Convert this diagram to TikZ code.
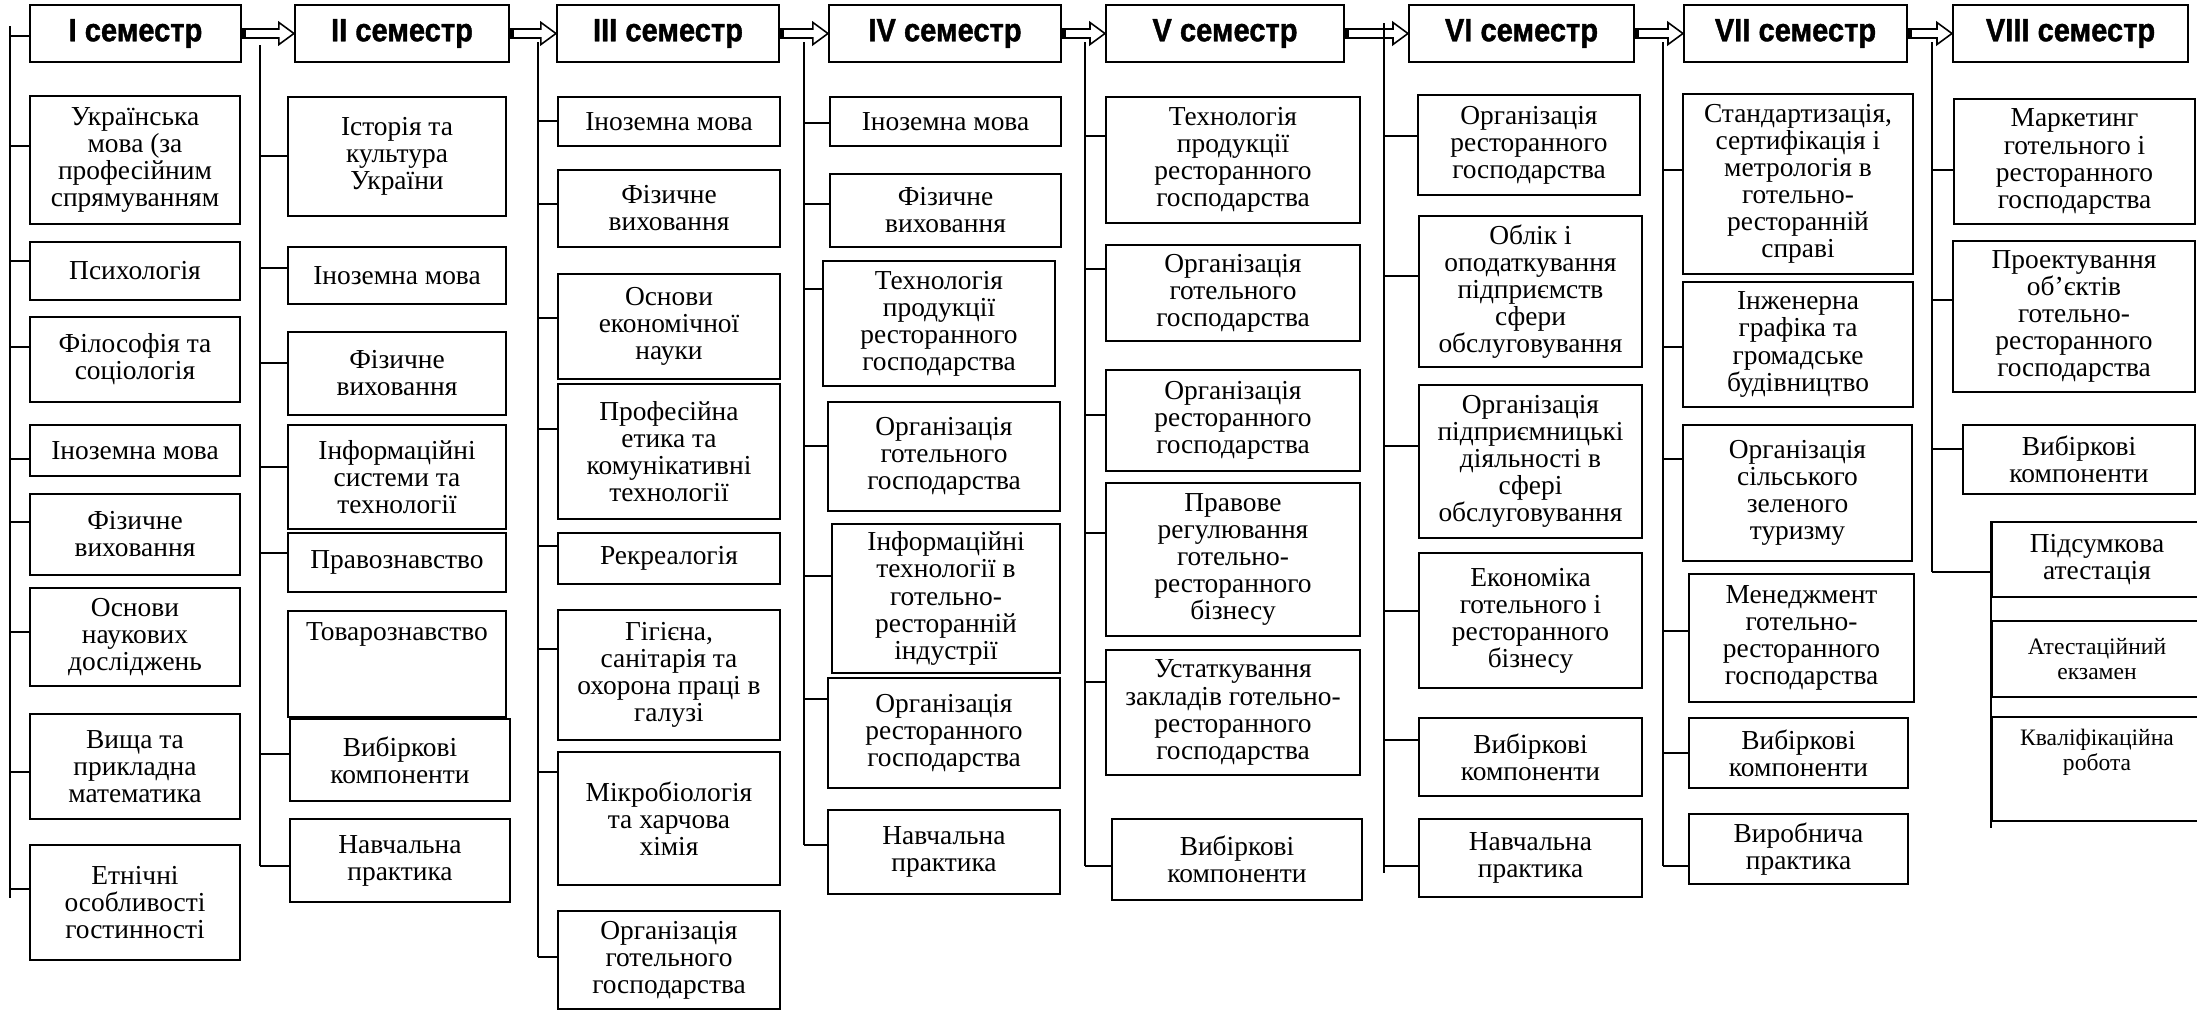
\documentclass[tikz,border=0pt]{standalone}
\usepackage{fontspec}
\setmainfont{Liberation Serif}
\newfontfamily\hdfont{Liberation Sans}[FakeStretch=0.9,FakeBold=1.2]
\usetikzlibrary{calc}
\newcommand\mybox[7][]{\node[box,minimum width={(#5-#3)*0.01cm},minimum height={(#6-#4)*0.01cm},#1] (#2) at ({(#3+#5)/2},{(#4+#6)/2}) {#7};}
\newcommand\tk[3]{\draw[tick] (#1 |- 0,#3) -- (#2.west |- 0,#3);}
\newcommand\harrow[2]{\draw[arr] ($(#1.east)+(0,-4.5)$) -- ($(#2.west)+(-15,-4.5)$) -- ($(#2.west)+(-15,-11)$) -- (#2.west) -- ($(#2.west)+(-15,11)$) -- ($(#2.west)+(-15,4.5)$) -- ($(#1.east)+(0,4.5)$) -- cycle;
 \fill ($(#1.east)+(0,-4.5)$) rectangle ($(#1.east)+(4,4.5)$);}
\tikzset{
 box/.style={draw, line width=0.6pt, inner sep=0pt, align=center, font=\fontsize{7.8}{7.7}\selectfont},
 hdr/.style={font=\hdfont\bfseries\fontsize{9.2}{10}\selectfont},
 small/.style={font=\fontsize{6.7}{7.2}\selectfont},
 tick/.style={line width=0.45pt},
 bus/.style={line width=0.6pt},
 arr/.style={line width=0.45pt, line join=miter},
}
\begin{document}
\begin{tikzpicture}[x=0.01cm,y=-0.01cm]
\fill[white] (0,0) rectangle (2197,1012);
\useasboundingbox (0,0) rectangle (2197,1012);
% headers
\mybox[hdr]{h1}{30}{5}{241}{62}{I семестр}
\mybox[hdr]{h2}{295}{5}{509}{62}{II семестр}
\mybox[hdr]{h3}{557}{5}{779}{62}{III семестр}
\mybox[hdr]{h4}{829}{5}{1061}{62}{IV семестр}
\mybox[hdr]{h5}{1106}{5}{1344}{62}{V семестр}
\mybox[hdr]{h6}{1409}{5}{1634}{62}{VI семестр}
\mybox[hdr]{h7}{1684}{5}{1907}{62}{VII семестр}
\mybox[hdr]{h8}{1953}{5}{2188}{62}{VIII семестр}
\harrow{h1}{h2}\harrow{h2}{h3}\harrow{h3}{h4}\harrow{h4}{h5}
\harrow{h5}{h6}\harrow{h6}{h7}\harrow{h7}{h8}
% column 1
\coordinate (b1t) at (10,26); \coordinate (b1b) at (10,898);
\draw[bus] (b1t) -- (b1b);
\tk{b1t}{h1}{36}
\mybox{c1b1}{30}{96}{240}{224}{Українська\\мова (за\\професійним\\спрямуванням}
\mybox{c1b2}{30}{242}{240}{300}{Психологія}
\mybox{c1b3}{30}{317}{240}{402}{Філософія та\\соціологія}
\mybox{c1b4}{30}{425}{240}{476}{Іноземна мова}
\mybox{c1b5}{30}{494}{240}{575}{Фізичне\\виховання}
\mybox{c1b6}{30}{588}{240}{686}{Основи\\наукових\\досліджень}
\mybox{c1b7}{30}{714}{240}{819}{Вища та\\прикладна\\математика}
\mybox{c1b8}{30}{845}{240}{960}{Етнічні\\особливості\\гостинності}
\tk{b1t}{c1b1}{146}\tk{b1t}{c1b2}{261}\tk{b1t}{c1b3}{347}\tk{b1t}{c1b4}{459}
\tk{b1t}{c1b5}{522}\tk{b1t}{c1b6}{632}\tk{b1t}{c1b7}{772}\tk{b1t}{c1b8}{889}
% column 2
\coordinate (b2t) at (260,45); \coordinate (b2b) at (260,866);
\draw[bus] (b2t) -- (b2b);
\mybox{c2b1}{288}{97}{506}{216}{Історія та\\культура\\України}
\mybox{c2b2}{288}{247}{506}{304}{Іноземна мова}
\mybox{c2b3}{288}{332}{506}{415}{Фізичне\\виховання}
\mybox{c2b4}{288}{425}{506}{529}{Інформаційні\\системи та\\технології}
\mybox{c2b5}{288}{533}{506}{592}{Правознавство}
\mybox[label={[anchor=north,inner sep=0pt,yshift=-3.5pt,font=\fontsize{7.8}{7.7}\selectfont]north:Товарознавство}]{c2b6}{288}{611}{506}{717}{}
\mybox{c2b7}{290}{719}{510}{801}{Вибіркові\\компоненти}
\mybox{c2b8}{290}{819}{510}{902}{Навчальна\\практика}
\tk{b2t}{c2b1}{156}\tk{b2t}{c2b2}{268}\tk{b2t}{c2b3}{363}\tk{b2t}{c2b4}{467}
\tk{b2t}{c2b5}{553}\tk{b2t}{c2b7}{754}\tk{b2t}{c2b8}{866}
% column 3
\coordinate (b3t) at (538,42); \coordinate (b3b) at (538,957);
\draw[bus] (b3t) -- (b3b);
\mybox{c3b1}{558}{97}{780}{146}{Іноземна мова}
\mybox{c3b2}{558}{170}{780}{247}{Фізичне\\виховання}
\mybox{c3b3}{558}{274}{780}{379}{Основи\\економічної\\науки}
\mybox{c3b4}{558}{384}{780}{519}{Професійна\\етика та\\комунікативні\\технології}
\mybox{c3b5}{558}{533}{780}{584}{Рекреалогія}
\mybox{c3b6}{558}{610}{780}{740}{Гігієна,\\санітарія та\\охорона праці в\\галузі}
\mybox{c3b7}{558}{752}{780}{885}{Мікробіологія\\та харчова\\хімія}
\mybox{c3b8}{558}{911}{780}{1009}{Організація\\готельного\\господарства}
\tk{b3t}{c3b1}{121}\tk{b3t}{c3b2}{204}\tk{b3t}{c3b3}{318}\tk{b3t}{c3b4}{429}
\tk{b3t}{c3b5}{546}\tk{b3t}{c3b6}{649}\tk{b3t}{c3b7}{772}\tk{b3t}{c3b8}{957}
% column 4
\coordinate (b4t) at (804,42); \coordinate (b4b) at (804,845);
\draw[bus] (b4t) -- (b4b);
\mybox{c4b1}{830}{97}{1061}{146}{Іноземна мова}
\mybox{c4b2}{830}{174}{1061}{247}{Фізичне\\виховання}
\mybox{c4b3}{823}{261}{1055}{386}{Технологія\\продукції\\ресторанного\\господарства}
\mybox{c4b4}{828}{402}{1060}{511}{Організація\\готельного\\господарства}
\mybox{c4b5}{832}{524}{1060}{673}{Інформаційні\\технології в\\готельно-\\ресторанній\\індустрії}
\mybox{c4b6}{828}{678}{1060}{788}{Організація\\ресторанного\\господарства}
\mybox{c4b7}{828}{810}{1060}{894}{Навчальна\\практика}
\tk{b4t}{c4b1}{123}\tk{b4t}{c4b2}{204}\tk{b4t}{c4b3}{289}\tk{b4t}{c4b4}{446}
\tk{b4t}{c4b5}{576}\tk{b4t}{c4b6}{699}\tk{b4t}{c4b7}{845}
% column 5
\coordinate (b5t) at (1085,42); \coordinate (b5b) at (1085,866);
\draw[bus] (b5t) -- (b5b);
\mybox{c5b1}{1106}{97}{1360}{223}{Технологія\\продукції\\ресторанного\\господарства}
\mybox{c5b2}{1106}{245}{1360}{341}{Організація\\готельного\\господарства}
\mybox{c5b3}{1106}{370}{1360}{471}{Організація\\ресторанного\\господарства}
\mybox{c5b4}{1106}{483}{1360}{636}{Правове\\регулювання\\готельно-\\ресторанного\\бізнесу}
\mybox{c5b5}{1106}{650}{1360}{775}{Устаткування\\закладів готельно-\\ресторанного\\господарства}
\mybox{c5b6}{1112}{819}{1362}{900}{Вибіркові\\компоненти}
\tk{b5t}{c5b1}{136}\tk{b5t}{c5b2}{269}\tk{b5t}{c5b3}{415}\tk{b5t}{c5b4}{533}
\tk{b5t}{c5b5}{682}\tk{b5t}{c5b6}{866}
% column 6
\coordinate (b6t) at (1384,23); \coordinate (b6b) at (1384,873);
\draw[bus] (b6t) -- (b6b);
\mybox{c6b1}{1418}{95}{1640}{195}{Організація\\ресторанного\\господарства}
\mybox{c6b2}{1419}{216}{1642}{367}{Облік і\\оподаткування\\підприємств\\сфери\\обслуговування}
\mybox{c6b3}{1419}{385}{1642}{538}{Організація\\підприємницькі\\діяльності в\\сфері\\обслуговування}
\mybox{c6b4}{1419}{553}{1642}{688}{Економіка\\готельного і\\ресторанного\\бізнесу}
\mybox{c6b5}{1419}{718}{1642}{796}{Вибіркові\\компоненти}
\mybox{c6b6}{1419}{819}{1642}{897}{Навчальна\\практика}
\tk{b6t}{c6b1}{136}\tk{b6t}{c6b2}{276}\tk{b6t}{c6b3}{446}\tk{b6t}{c6b4}{611}
\tk{b6t}{c6b5}{740}\tk{b6t}{c6b6}{866}
% column 7
\coordinate (b7t) at (1663,42); \coordinate (b7b) at (1663,866);
\draw[bus] (b7t) -- (b7b);
\mybox{c7b1}{1683}{94}{1913}{274}{Стандартизація,\\сертифікація і\\метрологія в\\готельно-\\ресторанній\\справі}
\mybox{c7b2}{1683}{282}{1913}{407}{Інженерна\\графіка та\\громадське\\будівництво}
\mybox{c7b3}{1683}{425}{1912}{561}{Організація\\сільського\\зеленого\\туризму}
\mybox{c7b4}{1689}{574}{1914}{702}{Менеджмент\\готельно-\\ресторанного\\господарства}
\mybox{c7b5}{1689}{718}{1908}{788}{Вибіркові\\компоненти}
\mybox{c7b6}{1689}{814}{1908}{884}{Виробнича\\практика}
\tk{b7t}{c7b1}{170}\tk{b7t}{c7b2}{347}\tk{b7t}{c7b3}{459}\tk{b7t}{c7b4}{631}
\tk{b7t}{c7b5}{753}\tk{b7t}{c7b6}{866}
% column 8
\coordinate (b8t) at (1932,42); \coordinate (b8b) at (1932,572);
\draw[bus] (b8t) -- (b8b);
\mybox{c8b1}{1954}{99}{2195}{224}{Маркетинг\\готельного і\\ресторанного\\господарства}
\mybox{c8b2}{1953}{241}{2195}{392}{Проектування\\об’єктів\\готельно-\\ресторанного\\господарства}
\mybox{c8b3}{1963}{425}{2195}{494}{Вибіркові\\компоненти}
\mybox{c8b4}{1992}{522}{2202}{597}{Підсумкова\\атестація}
\mybox[small]{c8b5}{1992}{621}{2202}{697}{Атестаційний\\екзамен}
\mybox[label={[anchor=north,inner sep=0pt,yshift=-3.5pt,font=\fontsize{6.7}{7.2}\selectfont,align=center]north:Кваліфікаційна\\робота}]{c8b6}{1992}{717}{2202}{821}{}
\draw[bus] (c8b4.north west) -- ($(c8b6.south west)+(0,6)$);
\tk{b8t}{c8b1}{170}\tk{b8t}{c8b2}{300}\tk{b8t}{c8b3}{449}\tk{b8t}{c8b4}{572}
\end{tikzpicture}
\end{document}
